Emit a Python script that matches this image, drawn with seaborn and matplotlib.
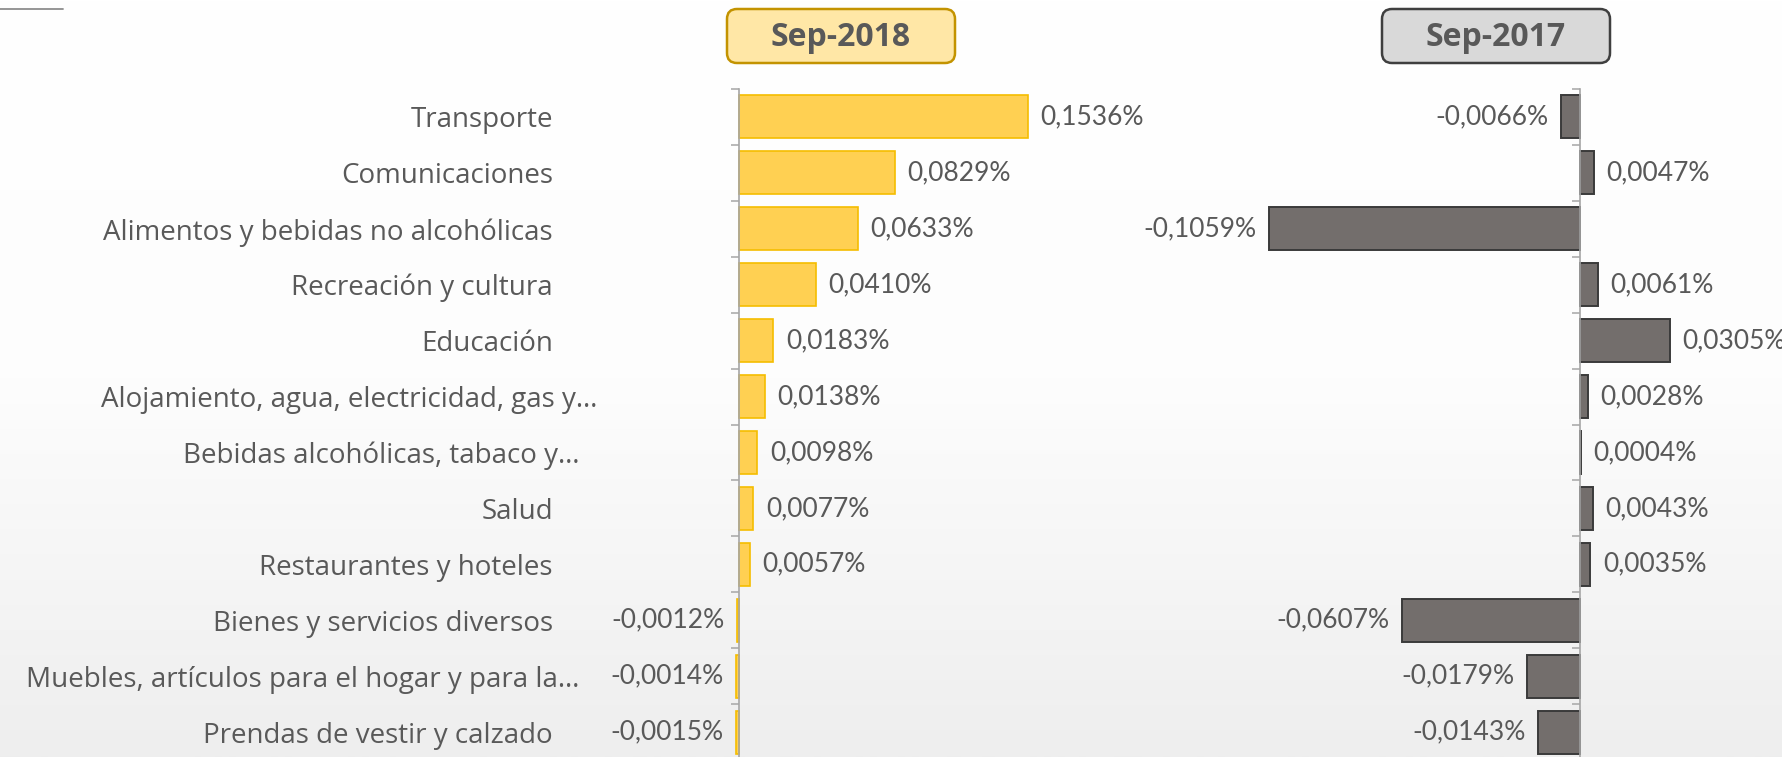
import numpy as np
import matplotlib
matplotlib.use("Agg")
import matplotlib.pyplot as plt
from matplotlib.colors import LinearSegmentedColormap
from matplotlib.patches import FancyBboxPatch
from matplotlib.lines import Line2D
import seaborn as sns

categories = [
    "Transporte",
    "Comunicaciones",
    "Alimentos y bebidas no alcohólicas",
    "Recreación y cultura",
    "Educación",
    "Alojamiento, agua, electricidad, gas y…",
    "Bebidas alcohólicas, tabaco y…",
    "Salud",
    "Restaurantes y hoteles",
    "Bienes y servicios diversos",
    "Muebles, artículos para el hogar y para la…",
    "Prendas de vestir y calzado",
]
sep2018 = [0.1536, 0.0829, 0.0633, 0.0410, 0.0183, 0.0138, 0.0098, 0.0077,
           0.0057, -0.0012, -0.0014, -0.0015]
sep2017 = [-0.0066, 0.0047, -0.1059, 0.0061, 0.0305, 0.0028, 0.0004, 0.0043,
           0.0035, -0.0607, -0.0179, -0.0143]
headers = ["Sep-2018", "Sep-2017"]

TXT = "#595959"
FONT = "Lato"
CAT_FONT = "Open Sans"

sns.set_theme(style="white")
plt.rcParams["font.family"] = [FONT, "DejaVu Sans"]

W, H = 1783, 757
fig = plt.figure(figsize=(W / 100, H / 100), dpi=100)
fig.patch.set_facecolor("white")

# background gradient
bg = fig.add_axes([0, 0, 1, 1], zorder=-10)
grad = np.linspace(0, 1, 256).reshape(-1, 1)
cmap = LinearSegmentedColormap.from_list("bg", ["#FFFFFF", "#FDFDFD", "#EEEEEE"])
bg.imshow(grad, aspect="auto", cmap=cmap, extent=[0, 1, 0, 1], origin="upper")
bg.axis("off")


def fx(px):
    return px / W


def fy(py):
    return 1 - py / H


ax_bottom = fy(760)
ax_h = fy(89) - ax_bottom


def fmt(v):
    return f"{v:.4f}".replace(".", ",") + "%"


def style_axis(ax, show_labels):
    ax.patch.set_visible(False)
    for s in ["top", "right", "bottom"]:
        ax.spines[s].set_visible(False)
    ax.spines["left"].set_position(("data", 0))
    ax.spines["left"].set_color("#A6A6A6")
    ax.spines["left"].set_linewidth(1.2)
    ax.set_xticks([])
    ax.set_xlabel("")
    ax.set_ylabel("")
    ax.set_ylim(len(categories) - 0.5, -0.5)
    ax.set_yticks(np.arange(-0.5, len(categories), 1), minor=True)
    ax.tick_params(axis="y", which="minor", length=6, width=1.1,
                   color="#A6A6A6", left=True)
    ax.tick_params(axis="y", which="major", length=0, left=True,
                   labelsize=20, labelcolor=TXT, pad=134)
    if show_labels:
        for tick, lab in zip(ax.yaxis.get_major_ticks(), categories):
            if lab.startswith("Alojamiento"):
                tick.set_pad(102)
            elif lab.endswith("…"):
                tick.set_pad(115)
        for t in ax.get_yticklabels():
            t.set_family([CAT_FONT, "DejaVu Sans"])
    else:
        ax.set_yticklabels([])


# left panel
axL = fig.add_axes([fx(600), ax_bottom, fx(1150) - fx(600), ax_h])
sns.barplot(x=sep2018, y=categories, orient="h", color="#FFD052",
            edgecolor="#F5BD00", linewidth=1.2, width=0.77, saturation=1,
            ax=axL)
axL.set_xlim(-(739 - 600) / 1881, (1150 - 739) / 1881)
style_axis(axL, True)
axL.bar_label(axL.containers[0], labels=[fmt(v) for v in sep2018],
              padding=9, fontsize=19, color=TXT, family=FONT)

# right panel
axR = fig.add_axes([fx(1160), ax_bottom, fx(1783) - fx(1160), ax_h])
sns.barplot(x=sep2017, y=categories, orient="h", color="#736E6C",
            edgecolor="#3A3A3A", linewidth=1.4, width=0.77, saturation=1,
            ax=axR)
axR.set_xlim(-(1580 - 1160) / 2937, (1783 - 1580) / 2937)
style_axis(axR, False)
axR.bar_label(axR.containers[0], labels=[fmt(v) for v in sep2017],
              padding=9, fontsize=19, color=TXT, family=FONT)

# header boxes
boxes = [
    (727, 955, "#FFE7A6", "#C39300"),
    (1382, 1610, "#D9D9D9", "#3F3F3F"),
]
for (x0, x1, fc, ec), label in zip(boxes, headers):
    y0, y1 = 9, 63
    p = FancyBboxPatch((fx(x0 + 8), fy(y1 - 8)), fx(x1 - x0 - 16),
                       fy(y0 + 8) - fy(y1 - 8),
                       boxstyle=f"round,pad={8 / W},rounding_size={10 / W}",
                       transform=fig.transFigure, facecolor=fc, edgecolor=ec,
                       linewidth=1.8, mutation_aspect=W / H)
    fig.add_artist(p)
    fig.text(fx((x0 + x1) / 2), fy((y0 + y1) / 2 + 1), label, ha="center",
             va="center", fontsize=23, fontweight="bold", color=TXT,
             family=["Open Sans", "DejaVu Sans"])

# small line at top-left
fig.add_artist(Line2D([0, fx(63)], [fy(9), fy(9)], transform=fig.transFigure,
                      color="#8C8C8C", linewidth=1.3))

fig.savefig("out.png", dpi=100)
